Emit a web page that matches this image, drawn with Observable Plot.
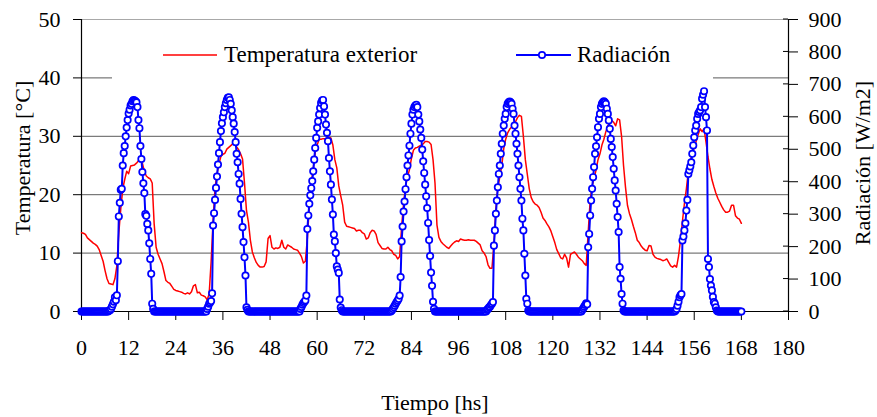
<!DOCTYPE html>
<html>
<head>
<meta charset="utf-8">
<script src="https://cdn.jsdelivr.net/npm/d3@7"></script>
<script src="https://cdn.jsdelivr.net/npm/@observablehq/plot@0.6"></script>
<style>
  html, body { margin: 0; padding: 0; background: #fff; }
  #chart svg { display: block; }
</style>
</head>
<body>
<div id="chart"></div>
<script>
// ---------- tick labels ----------
const xTicks = [0, 12, 24, 36, 48, 60, 72, 84, 96, 108, 120, 132, 144, 156, 168, 180];
const tempTicks = [0, 10, 20, 30, 40, 50];
const radTicks = [0, 100, 200, 300, 400, 500, 600, 700, 800, 900];
const TEMP_MAX = 50;
const RAD_MAX = 900;

// ---------- series names ----------
const seriesTemp = "Temperatura exterior";
const seriesRad = "Radiación";

// ---------- temperatura exterior [°C], one reading every 0.5 h, day by day ----------
const tempStepHours = 0.5;
const tempDay1 = [13.5,13.4,13.2,12.6,12.3,12.0,11.7,11.5,11.2,10.6,9.6,8.6,7.0,5.6,4.8,4.7,4.6,5.6,7.8,13.5,17.6,21.0,22.6,24.0,23.6,24.9,25.0,25.1,25.4,25.8,26.0,25.4,24.0,23.2,22.9,22.7,22.0,15.0,11.0,9.8,9.0,8.2,6.8,5.3,5.0,4.8,4.3,3.8];
const tempDay2 = [3.6,3.5,3.4,3.3,3.1,3.0,3.2,3.0,3.4,4.4,4.6,3.2,3.3,2.8,2.7,2.5,2.0,3.0,8.5,15.5,21.2,23.6,25.2,26.6,26.9,27.1,27.8,28.1,28.4,28.7,29.0,28.2,27.7,27.0,26.1,22.0,17.3,15.3,12.2,10.2,9.2,8.4,7.9,7.6,7.6,7.7,8.5,12.5];
const tempDay3 = [13.0,11.0,10.7,10.9,10.8,11.0,12.2,11.0,10.7,11.4,11.2,11.0,10.7,10.6,10.5,10.0,9.4,8.3,8.6,12.5,18.0,22.0,24.5,27.2,28.5,29.5,29.5,29.6,29.6,29.7,29.8,29.7,28.5,26.0,24.6,21.5,19.8,18.2,15.3,14.6,14.5,14.4,14.3,14.2,13.8,13.9,13.9,13.5];
const tempDay4 = [13.3,12.4,12.6,13.5,13.9,13.8,13.2,11.8,11.3,10.8,10.7,10.7,11.0,10.6,10.4,9.8,9.6,9.0,9.4,14.5,18.5,21.5,23.0,24.3,26.2,27.6,28.0,28.1,28.3,28.5,28.7,29.1,29.1,29.0,28.6,26.0,22.0,14.8,12.7,12.0,11.6,11.3,11.0,10.8,11.2,11.6,11.9,12.1];
const tempDay5 = [12.0,12.4,12.3,12.2,12.2,12.3,12.2,12.2,12.2,12.0,11.7,11.4,10.4,10.0,9.4,8.0,7.4,7.4,11.5,17.5,21.3,23.0,25.0,27.9,29.5,30.6,31.2,31.6,32.0,32.5,33.2,33.6,33.4,30.0,26.0,23.5,21.0,19.5,18.8,18.4,18.2,17.8,17.0,16.0,15.6,15.0,14.5,13.8];
const tempDay6 = [12.8,11.8,10.6,9.9,9.2,9.0,9.8,9.2,7.6,9.8,10.0,10.2,9.8,9.3,9.0,8.7,8.2,7.9,13.5,19.0,21.5,22.8,24.2,26.0,27.0,28.5,29.5,30.8,31.8,32.3,32.7,32.4,31.8,33.0,32.8,30.0,25.0,21.3,18.2,16.8,15.8,14.6,13.5,12.2,11.8,11.2,10.8,10.5];
const tempDay7 = [10.4,11.3,11.2,9.8,9.3,9.1,9.0,8.9,8.7,8.8,9.0,8.4,7.8,7.6,7.9,7.6,9.5,12.2,15.5,18.5,21.0,24.0,25.8,27.0,28.0,29.2,30.3,31.3,30.8,31.3,29.0,26.5,24.4,22.6,21.4,20.3,19.4,18.7,18.0,17.4,17.0,17.0,17.2,18.2,18.2,16.4,16.0,15.8,15.1];

// ---------- radiación [W/m2], one reading every 0.25 h, day by day ----------
const radStepHours = 0.25;
const radDay1 = [0,0,0,0,0,0,0,0,0,0,0,0,0,0,0,0,0,0,0,0,0,0,0,0,0,0,0,0,
  2,4,8,15,22,30,44,35,50,155,293,335,375,378,450,488,510,540,567,590,610,622,635,640,648,652,650,648,645,630,590,565,510,470,430,395,365,300,295,270,250,210,162,116,24,8,
  0,0,0,0,0,0,0,0,0,0,0,0,0,0,0,0,0,0,0,0,0,0];
const radDay2 = [0,0,0,0,0,0,0,0,0,0,0,0,0,0,0,0,0,0,0,0,0,0,0,0,0,0,0,0,0,0,0,0,
  8,15,24,28,32,56,265,303,344,381,416,453,488,522,556,580,599,614,630,642,652,659,660,652,640,620,599,579,553,522,486,460,424,394,347,301,260,214,167,111,13,5,
  0,0,0,0,0,0,0,0,0,0,0,0,0,0,0,0,0,0,0,0,0,0];
const radDay3 = [0,0,0,0,0,0,0,0,0,0,0,0,0,0,0,0,0,0,0,0,0,0,0,0,0,0,0,0,0,0,0,
  8,14,21,26,30,34,49,254,296,332,358,380,402,432,468,504,535,566,586,607,627,643,650,652,632,607,576,551,525,473,432,391,345,299,237,216,180,139,129,119,37,12,4,
  0,0,0,0,0,0,0,0,0,0,0,0,0,0,0,0,0,0,0,0,0,0];
const radDay4 = [0,0,0,0,0,0,0,0,0,0,0,0,0,0,0,0,0,0,0,0,0,0,0,0,0,0,0,0,
  3,8,13,18,24,29,34,39,49,106,216,262,308,339,377,414,450,481,511,548,579,607,622,630,635,637,630,607,586,561,535,499,463,427,391,355,319,273,220,171,120,79,30,8,
  0,0,0,0,0,0,0,0,0,0,0,0,0,0,0,0,0,0,0,0,0,0,0,0];
const radDay5 = [0,0,0,0,0,0,0,0,0,0,0,0,0,0,0,0,0,0,0,0,0,0,0,0,0,0,0,0,0,
  5,8,12,15,20,24,29,203,250,301,342,383,424,450,486,517,548,573,594,609,630,640,645,647,645,640,625,609,573,548,517,486,450,414,378,342,286,250,178,111,39,24,3,
  0,0,0,0,0,0,0,0,0,0,0,0,0,0,0,0,0,0,0,0,0,0,0,0];
const radDay6 = [0,0,0,0,0,0,0,0,0,0,0,0,0,0,0,0,0,0,0,0,0,0,0,0,0,0,0,0,0,0,
  5,10,15,20,25,22,198,239,296,342,378,414,445,486,509,537,568,594,609,630,640,645,648,645,640,625,609,589,563,532,507,476,440,404,373,332,291,245,137,101,54,24,3,
  0,0,0,0,0,0,0,0,0,0,0,0,0,0,0,0,0,0,0,0,0,0,0];
const radDay7 = [0,0,0,0,0,0,0,0,0,0,0,0,0,0,0,0,0,0,0,0,0,0,0,0,0,0,0,0,0,
  3,8,18,30,44,50,54,219,231,250,272,311,344,424,435,447,460,486,512,537,558,573,594,609,615,620,630,656,668,679,630,599,558,162,137,100,80,65,45,29,24,13,3,
  0,0,0,0,0,0,0,0,0,0,0,0,0,0,0,0,0,0,0,0,0,0,0,0,0];

const tempByDay = [tempDay1, tempDay2, tempDay3, tempDay4, tempDay5, tempDay6, tempDay7];
const radByDay = [radDay1, radDay2, radDay3, radDay4, radDay5, radDay6, radDay7];

// ---------- tables for the library ----------
const tempRows = tempByDay.flatMap((arr, d) => arr.map((t, i) => ({h: 24 * d + i * tempStepHours, t})));
const radRows = radByDay.flatMap((arr, d) => arr.map((r, i) => ({h: 24 * d + i * radStepHours, r})));
const radOnTempScale = (r) => r * TEMP_MAX / RAD_MAX;

const FONT = "'Liberation Serif', 'Times New Roman', serif";
const RED = "#ff0000";
const BLUE = "#0000ff";

const chart = Plot.plot({
  width: 877,
  height: 417,
  marginLeft: 81,
  marginRight: 89,
  marginTop: 19,
  marginBottom: 106,
  style: {fontFamily: FONT, fontSize: "22px", color: "#000", background: "#fff", overflow: "visible"},
  x: {domain: [0, 180]},
  y: {domain: [0, TEMP_MAX]},
  marks: [
    Plot.gridY(tempTicks.filter(v => v > 0 && v < TEMP_MAX), {stroke: "#5a5a5a", strokeOpacity: 1, strokeWidth: 1}),
    Plot.ruleY([TEMP_MAX], {stroke: "#a8a8a8", strokeWidth: 1.2}),
    Plot.ruleX([0], {stroke: "#000", strokeWidth: 1.2}),
    Plot.ruleX([180], {stroke: "#000", strokeWidth: 1.2}),
    Plot.ruleY([0], {stroke: "#000", strokeWidth: 1.2}),
    Plot.axisY({ticks: tempTicks, tickSize: 8, tickPadding: 13, label: null, tickFormat: d => String(d)}),
    Plot.axisY(radTicks.map(radOnTempScale), {anchor: "right", tickSize: 9, tickPadding: 11, label: null,
      tickFormat: v => String(Math.round(v * RAD_MAX / TEMP_MAX))}),
    Plot.axisX({ticks: xTicks, tickSize: 9, tickPadding: 19, label: null, tickFormat: d => String(d)}),
    Plot.line(tempRows, {x: "h", y: "t", stroke: RED, strokeWidth: 1.5}),
    Plot.line(radRows, {x: "h", y: d => radOnTempScale(d.r), stroke: BLUE, strokeWidth: 2}),
    Plot.dot(radRows, {x: "h", y: d => radOnTempScale(d.r), r: 3.2, stroke: BLUE, fill: "#fff", strokeWidth: 1.7})
  ]
});

document.getElementById("chart").appendChild(chart);

// ---------- additions: inner right ticks, legend, axis titles ----------
const svg = d3.select(chart);
const ys = chart.scale("y");
const xs = chart.scale("x");
const xRight = xs.apply(180);

const inner = svg.append("g").attr("stroke", "#000").attr("stroke-width", 1);
radTicks.forEach(r => {
  const y = ys.apply(radOnTempScale(r));
  inner.append("line").attr("x1", xRight - 5).attr("x2", xRight).attr("y1", y).attr("y2", y);
});

// legend (white box covering the 40 gridline)
const legend = svg.append("g").attr("text-anchor", "start");
legend.append("rect").attr("x", 112).attr("y", 28).attr("width", 601).attr("height", 52).attr("fill", "#fff");
legend.append("line").attr("x1", 163).attr("x2", 217).attr("y1", 55).attr("y2", 55)
  .attr("stroke", RED).attr("stroke-width", 1.5);
legend.append("text").attr("x", 224).attr("y", 62).attr("text-anchor", "start")
  .attr("font-family", FONT).attr("font-size", 23).attr("fill", "#000").text(seriesTemp);
legend.append("line").attr("x1", 516).attr("x2", 571).attr("y1", 55).attr("y2", 55)
  .attr("stroke", BLUE).attr("stroke-width", 2);
legend.append("circle").attr("cx", 542).attr("cy", 55).attr("r", 3.2)
  .attr("stroke", BLUE).attr("stroke-width", 1.7).attr("fill", "#fff");
legend.append("text").attr("x", 577).attr("y", 62).attr("text-anchor", "start")
  .attr("font-family", FONT).attr("font-size", 23).attr("fill", "#000").text(seriesRad);

// axis titles
const titles = svg.append("g").attr("font-family", FONT).attr("font-size", 22).attr("fill", "#000").attr("text-anchor", "middle");
titles.append("text").attr("transform", "translate(30,158) rotate(-90)").text("Temperatura [°C]");
titles.append("text").attr("transform", "translate(870,163) rotate(-90)").text("Radiación [W/m2]");
titles.append("text").attr("x", 435).attr("y", 410).text("Tiempo [hs]");
</script>
</body>
</html>
